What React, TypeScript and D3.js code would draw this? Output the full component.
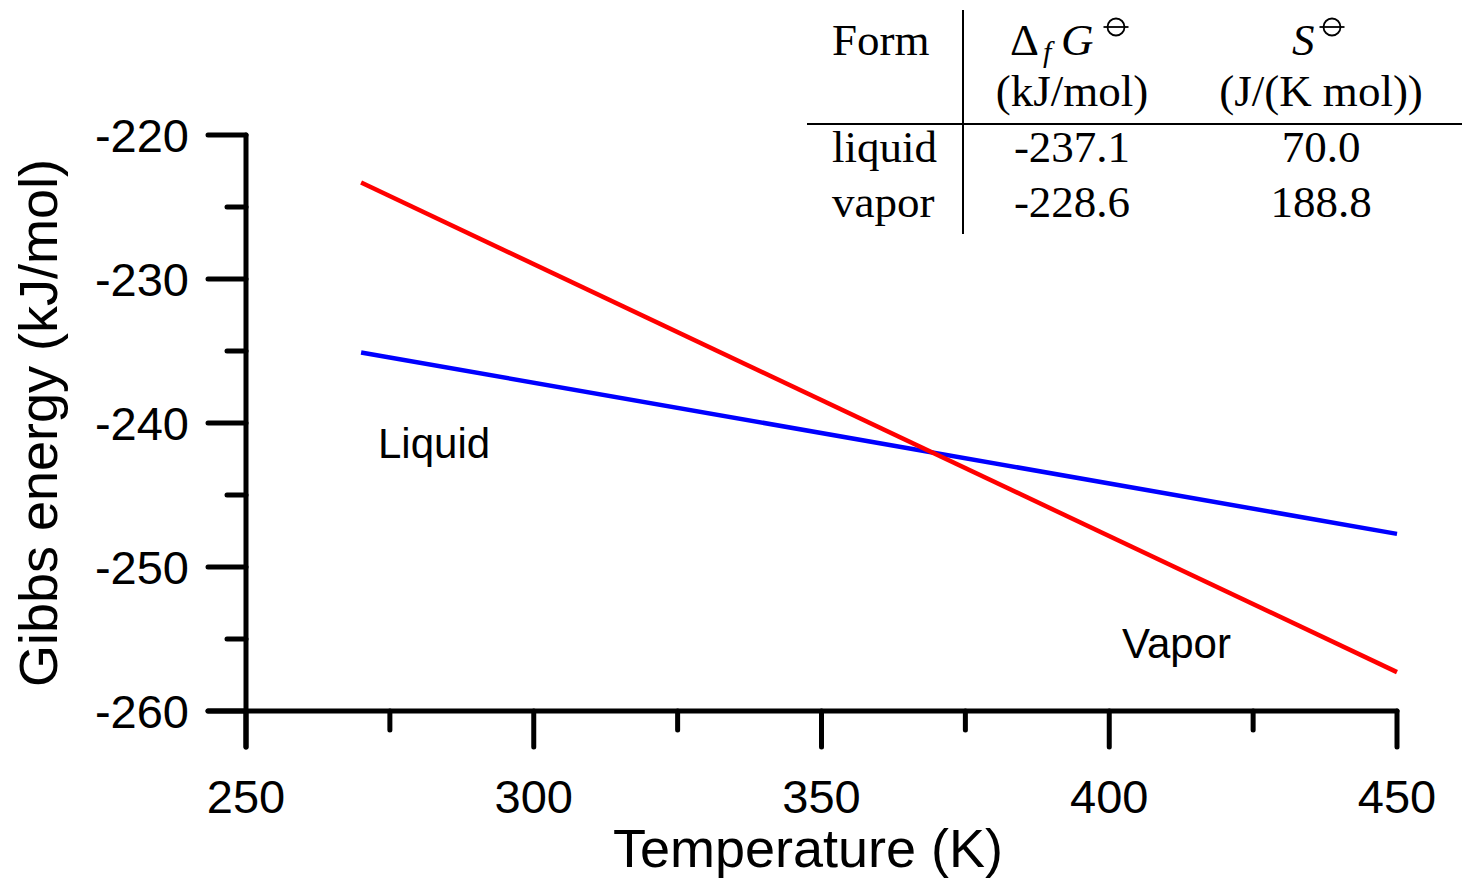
import React from "react";
import * as d3 from "d3";

const temps = [270, 450];
const liquidG = [-235.1, -247.7];
const vaporG = [-223.3, -257.3];

const xMajorTicks = [250, 300, 350, 400, 450];
const xMinorTicks = [275, 325, 375, 425];
const yMajorTicks = [-260, -250, -240, -230, -220];
const yMinorTicks = [-255, -245, -235, -225];

const tableHeader1 = ["Form", "ΔfG", "S"];
const tableHeader2 = ["", "(kJ/mol)", "(J/(K mol))"];
const tableForms = ["liquid", "vapor"];
const tableDeltaG = ["-237.1", "-228.6"];
const tableEntropy = ["70.0", "188.8"];

const W = 1462;
const H = 880;

export default function App() {
  const x = d3.scaleLinear().domain([250, 450]).range([246, 1397]);
  const y = d3.scaleLinear().domain([-260, -220]).range([711, 135]);
  const line = d3
    .line<[number, number]>()
    .x((d) => x(d[0]))
    .y((d) => y(d[1]));
  const liquidPts = temps.map((t, i) => [t, liquidG[i]] as [number, number]);
  const vaporPts = temps.map((t, i) => [t, vaporG[i]] as [number, number]);

  const sans = "'Liberation Sans', Arial, sans-serif";
  const serif = "'Liberation Serif', 'Times New Roman', serif";
  const axisStroke = 5;
  const x0 = x(250);
  const y0 = y(-260);

  const col1 = 832;
  const col2 = 1072;
  const col3 = 1321;
  const tfs = 45;

  const plimsoll = (cx: number, cy: number) => (
    <g stroke="#000" strokeWidth={1.8} fill="none">
      <circle cx={cx} cy={cy} r={8.5} />
      <line x1={cx - 12.5} x2={cx + 12.5} y1={cy} y2={cy} />
    </g>
  );

  return (
    <svg
      width={W}
      height={H}
      style={{ position: "absolute", left: 0, top: 0, background: "#fff" }}
    >
      <rect width={W} height={H} fill="#fff" />
      {/* axes */}
      <g stroke="#000" strokeWidth={axisStroke} strokeLinecap="round">
        <line x1={x0} x2={x0} y1={y(-220)} y2={y0 + 36} />
        <line x1={x0 - 38} x2={x(450)} y1={y0} y2={y0} />
        {yMajorTicks.map((t) => (
          <line key={"ym" + t} x1={x0 - 38} x2={x0} y1={y(t)} y2={y(t)} />
        ))}
        {yMinorTicks.map((t) => (
          <line key={"yn" + t} x1={x0 - 19} x2={x0} y1={y(t)} y2={y(t)} />
        ))}
        {xMajorTicks.map((t) => (
          <line key={"xm" + t} x1={x(t)} x2={x(t)} y1={y0} y2={y0 + 36} />
        ))}
        {xMinorTicks.map((t) => (
          <line key={"xn" + t} x1={x(t)} x2={x(t)} y1={y0} y2={y0 + 19} />
        ))}
      </g>
      <g fontFamily={sans} fontSize={47} fill="#000">
        {yMajorTicks.map((t) => (
          <text key={"yl" + t} x={x0 - 57} y={y(t) + 17} textAnchor="end">
            {t}
          </text>
        ))}
        {xMajorTicks.map((t) => (
          <text key={"xl" + t} x={x(t)} y={813} textAnchor="middle">
            {t}
          </text>
        ))}
      </g>
      <text
        x={808}
        y={867}
        textAnchor="middle"
        fontFamily={sans}
        fontSize={54}
        fill="#000"
      >
        Temperature (K)
      </text>
      <text
        transform={`translate(57,423) rotate(-90)`}
        textAnchor="middle"
        fontFamily={sans}
        fontSize={54}
        fill="#000"
      >
        Gibbs energy (kJ/mol)
      </text>

      {/* lines */}
      <path d={line(liquidPts) || ""} stroke="#0000ff" strokeWidth={4.5} fill="none" />
      <path d={line(vaporPts) || ""} stroke="#ff0000" strokeWidth={4.5} fill="none" />

      <text x={378} y={458} fontFamily={sans} fontSize={42} fill="#000">
        Liquid
      </text>
      <text x={1122} y={658} fontFamily={sans} fontSize={42} fill="#000">
        Vapor
      </text>

      {/* table */}
      <g stroke="#000" strokeWidth={2}>
        <line x1={963} x2={963} y1={10} y2={234} />
        <line x1={807} x2={1462} y1={124} y2={124} />
      </g>
      <g fontFamily={serif} fontSize={tfs} fill="#000">
        <text x={col1} y={55}>{tableHeader1[0]}</text>
        <text x={1010} y={55}>Δ</text>
        <text x={1043} y={62} fontStyle="italic" fontSize={30}>f</text>
        <text x={1061} y={55} fontStyle="italic">G</text>
        <text x={1292} y={55} fontStyle="italic">S</text>
        <text x={col2} y={106} textAnchor="middle">{tableHeader2[1]}</text>
        <text x={col3} y={106} textAnchor="middle">{tableHeader2[2]}</text>
        {tableForms.map((f, i) => (
          <g key={f}>
            <text x={col1} y={162 + i * 55}>{f}</text>
            <text x={col2} y={162 + i * 55} textAnchor="middle">{tableDeltaG[i]}</text>
            <text x={col3} y={162 + i * 55} textAnchor="middle">{tableEntropy[i]}</text>
          </g>
        ))}
      </g>
      {plimsoll(1116, 27)}
      {plimsoll(1332, 27)}
    </svg>
  );
}
